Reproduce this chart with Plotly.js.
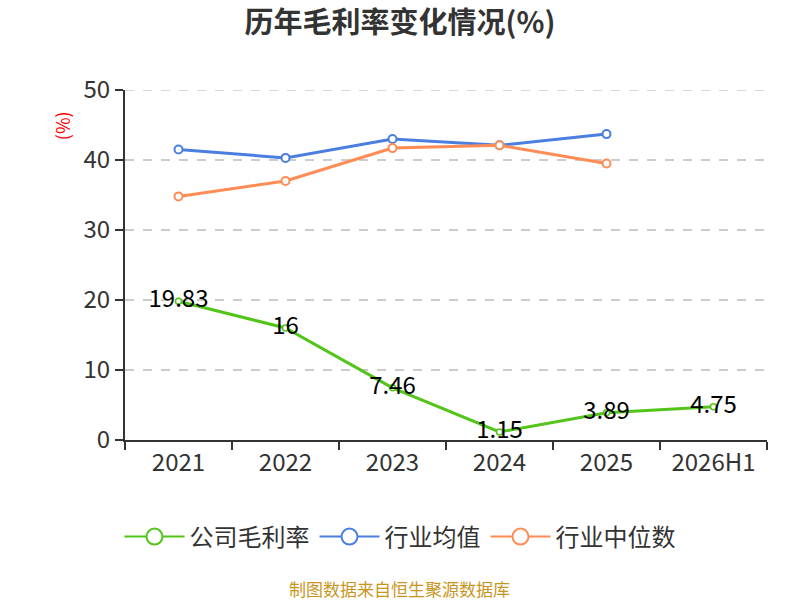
<!DOCTYPE html>
<html>
<head>
<meta charset="utf-8">
<script src="https://cdn.plot.ly/plotly-3.0.1.min.js"></script>
<style>
  html, body { margin: 0; padding: 0; background: #fff; }
  #chart { width: 800px; height: 600px; }
</style>
</head>
<body>
<div id="chart"></div>
<script>
var years = ['2021', '2022', '2023', '2024', '2025', '2026H1'];
var companyMargin = [19.83, 16, 7.46, 1.15, 3.89, 4.75];
var industryMean = [41.5, 40.3, 43.0, 42.1, 43.7];
var industryMedian = [34.8, 37.0, 41.7, 42.1, 39.5];
var seriesNames = ['公司毛利率', '行业均值', '行业中位数'];
var seriesColors = ['#52c41a', '#4a7fe0', '#ff8c55'];

var fontFamily = '"Noto Sans CJK SC", "Noto Sans", sans-serif';

function lineTrace(y, idx, extra) {
  return Object.assign({
    x: years.slice(0, y.length),
    y: y,
    type: 'scatter',
    mode: 'lines+markers',
    name: seriesNames[idx],
    showlegend: false,
    line: { color: seriesColors[idx], width: 3 },
    marker: {
      symbol: 'circle',
      size: 8,
      color: '#ffffff',
      line: { color: seriesColors[idx], width: 2 }
    },
    hoverinfo: 'x+y'
  }, extra || {});
}

function legendTrace(idx) {
  return {
    x: [null],
    y: [null],
    type: 'scatter',
    mode: 'lines+markers',
    name: seriesNames[idx],
    line: { color: seriesColors[idx], width: 2 },
    marker: {
      symbol: 'circle',
      size: 18,
      color: '#ffffff',
      line: { color: seriesColors[idx], width: 2 }
    },
    hoverinfo: 'skip'
  };
}

var traces = [
  lineTrace(industryMean, 1),
  lineTrace(industryMedian, 2),
  lineTrace(companyMargin, 0, {
    mode: 'lines+markers+text',
    text: companyMargin.map(String),
    textposition: 'middle center',
    textfont: { size: 24, color: '#000000', family: fontFamily },
    marker: {
      symbol: 'circle',
      size: 6,
      color: '#ffffff',
      line: { color: seriesColors[0], width: 1.5 }
    }
  }),
  legendTrace(0),
  legendTrace(1),
  legendTrace(2)
];

var layout = {
  width: 800,
  height: 600,
  margin: { t: 90, r: 33, b: 160, l: 125 },
  paper_bgcolor: '#ffffff',
  plot_bgcolor: '#ffffff',
  font: { family: fontFamily, color: '#333333' },
  title: {
    text: '<b>历年毛利率变化情况(%)</b>',
    x: 0.5,
    xref: 'container',
    xanchor: 'center',
    y: 0.962,
    yanchor: 'middle',
    font: { size: 29, color: '#333333', family: fontFamily }
  },
  xaxis: {
    type: 'category',
    range: [-0.5, 5.5],
    showline: true,
    linecolor: '#333333',
    linewidth: 2,
    ticks: 'outside',
    tickson: 'boundaries',
    ticklen: 8,
    tickwidth: 2,
    tickcolor: '#333333',
    showgrid: false,
    tickfont: { size: 24, color: '#333333' },
    fixedrange: true
  },
  yaxis: {
    range: [0, 50],
    dtick: 10,
    showline: true,
    linecolor: '#333333',
    linewidth: 2,
    ticks: 'outside',
    ticklen: 8,
    tickwidth: 2,
    tickcolor: '#333333',
    gridcolor: '#cccccc',
    griddash: 'dash',
    gridwidth: 1.5,
    zeroline: false,
    tickfont: { size: 24, color: '#333333' },
    fixedrange: true
  },
  shapes: [
    {
      type: 'line',
      xref: 'paper',
      yref: 'y',
      x0: 0,
      x1: 1,
      y0: 50,
      y1: 50,
      layer: 'below',
      line: { color: '#cccccc', width: 1.5, dash: 'dash' }
    }
  ],
  legend: {
    orientation: 'h',
    x: 0.5,
    xanchor: 'center',
    xref: 'container',
    y: 0.105,
    yref: 'container',
    yanchor: 'middle',
    font: { size: 24, color: '#333333' },
    itemwidth: 60
  },
  annotations: [
    {
      text: '(%)',
      xref: 'paper',
      yref: 'paper',
      x: -0.098,
      xanchor: 'center',
      y: 0.897,
      yanchor: 'middle',
      showarrow: false,
      textangle: -90,
      font: { size: 18, color: '#ff0000' }
    },
    {
      text: '制图数据来自恒生聚源数据库',
      xref: 'paper',
      yref: 'paper',
      x: 0.4283,
      xanchor: 'center',
      y: -0.4257,
      yanchor: 'middle',
      showarrow: false,
      font: { size: 17, color: '#c8961e' }
    }
  ],
  showlegend: true,
  hovermode: 'closest'
};

Plotly.newPlot('chart', traces, layout, { displayModeBar: false, staticPlot: false });
</script>
</body>
</html>
